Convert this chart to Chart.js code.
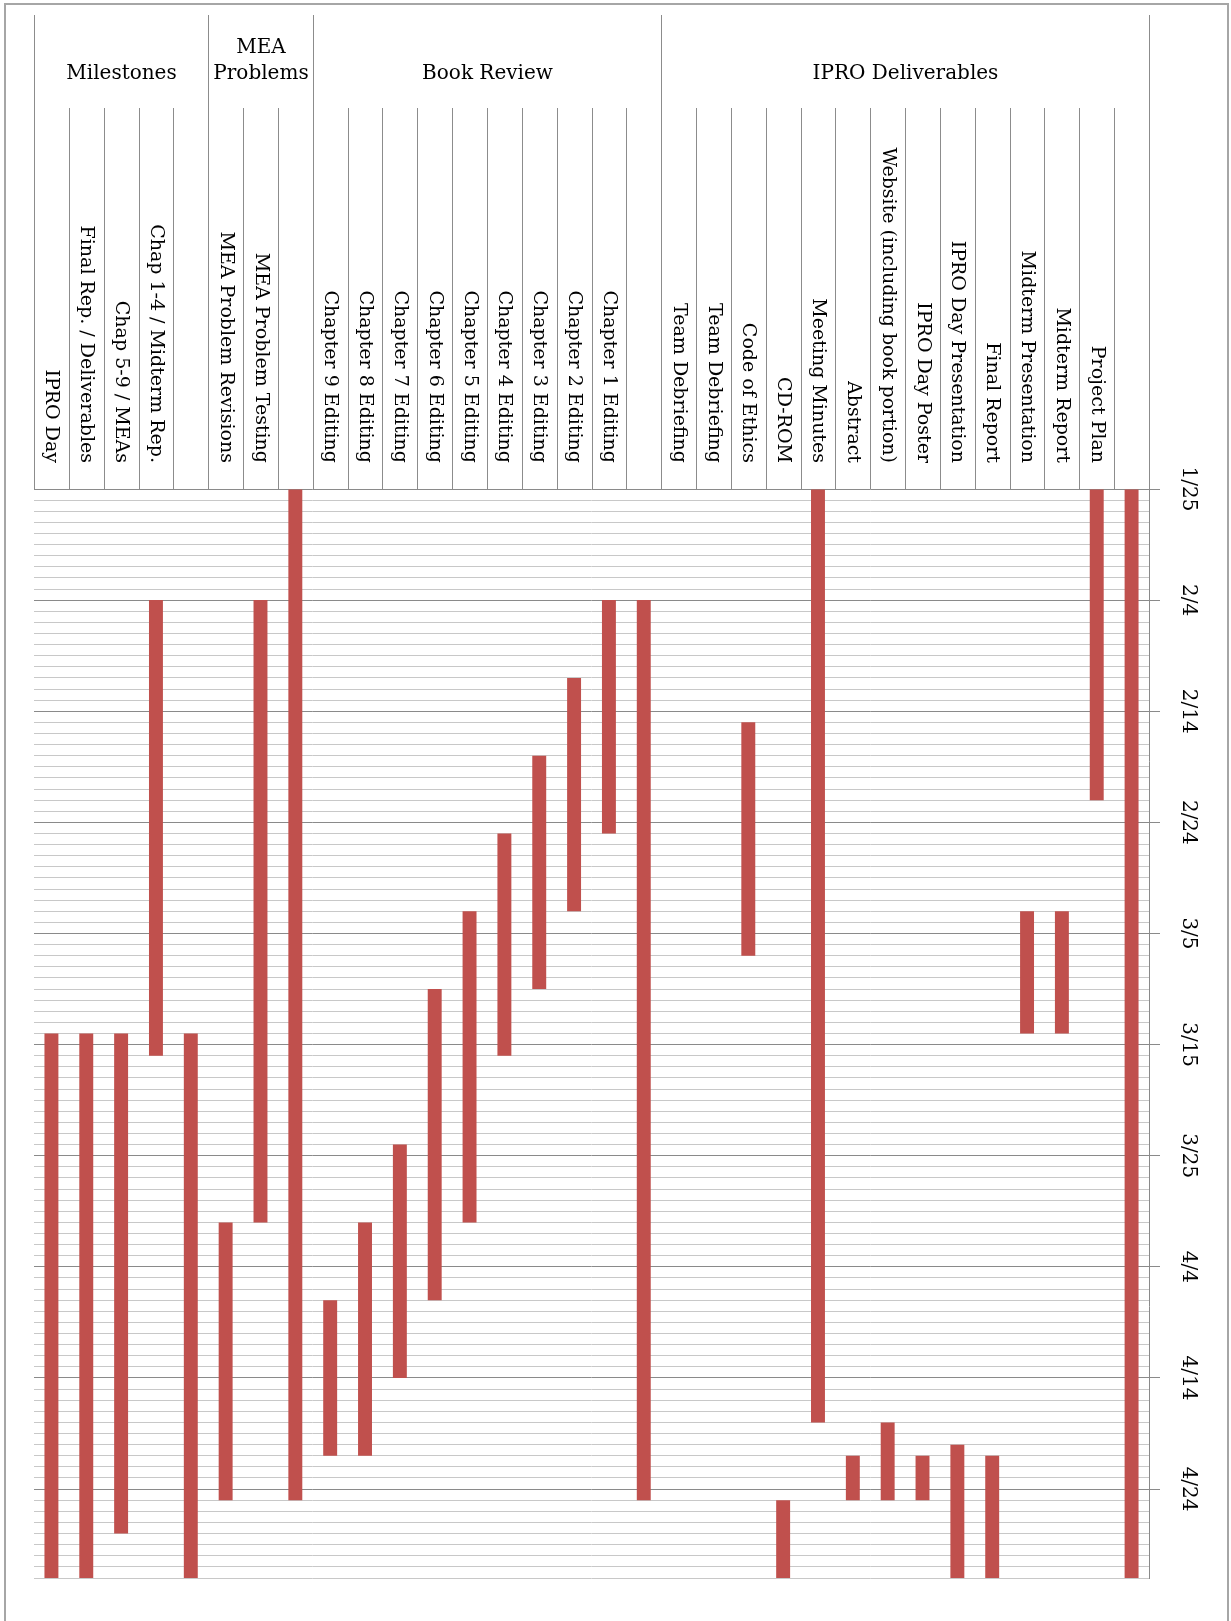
<!DOCTYPE html>
<html>
<head>
<meta charset="utf-8">
<script src="https://cdn.jsdelivr.net/npm/chart.js@4.4.1/dist/chart.umd.min.js"></script>
<style>
  html, body { margin: 0; padding: 0; background: #fff; }
  #wrap { position: relative; width: 1231px; height: 1621px; }
</style>
</head>
<body>
<div id="wrap"><canvas id="gantt"></canvas></div>
<script>
// schedule for spring 2008 (leap year: 2/24 + 10 days = 3/5)
const YEAR = 2008;

const groupNames = [['Milestones'], ['MEA', 'Problems'], ['Book Review'], ['IPRO Deliverables']];
const groupSizes = [5, 3, 10, 14];

const tasks = [
    'IPRO Day', 'Final Rep. / Deliverables', 'Chap 5-9 / MEAs', 'Chap 1-4 / Midterm Rep.', '',
    'MEA Problem Revisions', 'MEA Problem Testing', '',
    'Chapter 9 Editing', 'Chapter 8 Editing', 'Chapter 7 Editing', 'Chapter 6 Editing', 'Chapter 5 Editing',
    'Chapter 4 Editing', 'Chapter 3 Editing', 'Chapter 2 Editing', 'Chapter 1 Editing', '',
    'Team Debriefing', 'Team Debriefing', 'Code of Ethics', 'CD-ROM', 'Meeting Minutes', 'Abstract',
    'Website (including book portion)', 'IPRO Day Poster', 'IPRO Day Presentation', 'Final Report',
    'Midterm Presentation', 'Midterm Report', 'Project Plan', ''
];
const starts = [
    '3/14', '3/14', '3/14', '2/4', '3/14',
    '3/31', '2/4', '1/25',
    '4/7', '3/31', '3/24', '3/10', '3/3', '2/25', '2/18', '2/11', '2/4', '2/4',
    null, null, '2/15', '4/25', '1/25', '4/21', '4/18', '4/21', '4/20', '4/21', '3/3', '3/3', '1/25', '1/25'
];
const ends = [
    '5/2', '5/2', '4/28', '3/16', '5/2',
    '4/25', '3/31', '4/25',
    '4/21', '4/21', '4/14', '4/7', '3/31', '3/16', '3/10', '3/3', '2/25', '4/25',
    null, null, '3/7', '5/2', '4/18', '4/25', '4/25', '4/25', '5/2', '5/2', '3/14', '3/14', '2/22', '5/2'
];

const firstDay = '1/25';
const lastDay = '5/2';
const tickDates = ['1/25', '2/4', '2/14', '2/24', '3/5', '3/15', '3/25', '4/4', '4/14', '4/24'];

function dayIndex(md) {
    const [m, d] = md.split('/').map(Number);
    const [m0, d0] = firstDay.split('/').map(Number);
    return Math.round((new Date(YEAR, m - 1, d) - new Date(YEAR, m0 - 1, d0)) / 86400000);
}

const majorDays = tickDates.map(dayIndex);
const isMajor = v => majorDays.includes(v);

const FONT = 'DejaVu Serif';

const headerPlugin = {
    id: 'header',
    beforeDraw(chart) {
        const ctx = chart.ctx;
        ctx.save();
        ctx.fillStyle = '#fff';
        ctx.fillRect(0, 0, chart.width, chart.height);
        ctx.restore();
    },
    afterDraw(chart) {
        const { ctx, chartArea, scales: { x } } = chart;
        const half = (x.getPixelForValue(1) - x.getPixelForValue(0)) / 2;
        const edge = i => Math.round(i < tasks.length ? x.getPixelForValue(i) - half : x.getPixelForValue(tasks.length - 1) + half) + 0.5;
        const groupTop = 15, colTop = 108, labelBottom = chartArea.top - 26;

        // group boundaries
        const bounds = [0];
        groupSizes.forEach(n => bounds.push(bounds[bounds.length - 1] + n));

        ctx.save();
        ctx.strokeStyle = '#8c8c8c';
        ctx.lineWidth = 1;
        for (let i = 0; i <= tasks.length; i++) {
            const px = edge(i);
            ctx.beginPath();
            ctx.moveTo(px, bounds.includes(i) ? groupTop : colTop);
            ctx.lineTo(px, chartArea.top);
            ctx.stroke();
        }

        // group titles
        ctx.fillStyle = '#000';
        ctx.font = '20px "' + FONT + '"';
        ctx.textAlign = 'center';
        ctx.textBaseline = 'middle';
        groupNames.forEach((lines, g) => {
            const cx = (edge(bounds[g]) + edge(bounds[g + 1])) / 2;
            lines.forEach((t, j) => ctx.fillText(t, cx, 74 - (lines.length - 1 - j) * 26));
        });

        // task labels, rotated, bottom aligned
        ctx.font = '19px "' + FONT + '"';
        ctx.textAlign = 'right';
        tasks.forEach((t, i) => {
            if (!t) return;
            ctx.save();
            ctx.translate(x.getPixelForValue(i), labelBottom);
            ctx.rotate(Math.PI / 2);
            ctx.fillText(t, 0, 0);
            ctx.restore();
        });

        // outer frame
        ctx.strokeStyle = '#a6a6a6';
        ctx.lineWidth = 2;
        ctx.strokeRect(5, 4, 1223, 1700);
        ctx.restore();
    }
};

new Chart(document.getElementById('gantt'), {
    type: 'bar',
    data: {
        labels: tasks,
        datasets: [{
            data: tasks.map((t, i) => starts[i] ? [dayIndex(starts[i]), dayIndex(ends[i])] : null),
            backgroundColor: '#C0504D',
            borderWidth: 0,
            barPercentage: 0.4,
            categoryPercentage: 1.0
        }]
    },
    options: {
        responsive: true,
        maintainAspectRatio: false,
        animation: false,
        layout: { padding: { left: 34, top: 489, right: 0, bottom: 43 } },
        plugins: { legend: { display: false }, tooltip: { enabled: false } },
        scales: {
            x: { display: false },
            y: {
                type: 'linear',
                position: 'right',
                reverse: true,
                min: dayIndex(firstDay),
                max: dayIndex(lastDay),
                afterFit: s => { s.width = 82; },
                border: { display: true, color: '#8a8a8a', width: 1 },
                grid: {
                    color: c => (c.tick && isMajor(c.tick.value)) ? '#8a8a8a' : '#c8c8c8',
                    tickColor: c => (c.tick && isMajor(c.tick.value)) ? '#8a8a8a' : 'rgba(0,0,0,0)',
                    tickLength: 11,
                    lineWidth: 1
                },
                ticks: {
                    stepSize: 1,
                    autoSkip: false,
                    minRotation: -90,
                    maxRotation: -90,
                    crossAlign: 'center',
                    padding: 6,
                    color: '#000',
                    font: { family: FONT, size: 20 },
                    callback: v => isMajor(v) ? tickDates[majorDays.indexOf(v)] : ''
                }
            }
        }
    },
    plugins: [headerPlugin]
});
</script>
</body>
</html>
